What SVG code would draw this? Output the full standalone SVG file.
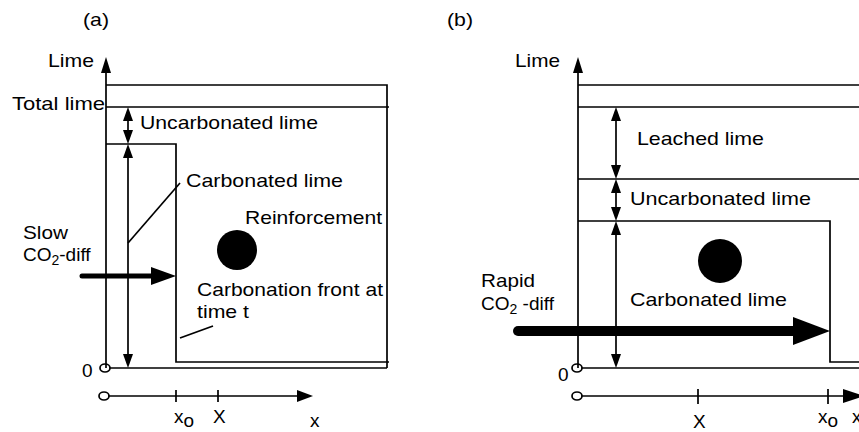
<svg xmlns="http://www.w3.org/2000/svg" width="859" height="432" viewBox="0 0 859 432">
<style>
.l{stroke:#000;stroke-width:1.7;fill:none}
.t{font-family:"Liberation Sans",Arial,sans-serif;font-size:19px;fill:#000}
.s{font-size:14px}
.h{fill:#000;stroke:none}
</style>
<rect width="859" height="432" fill="#fff"/>
<g id="panel-a">
<text class="t" x="83" y="26" textLength="26" lengthAdjust="spacingAndGlyphs">(a)</text>
<g id="a-axes">
<line class="l" x1="106" y1="368" x2="106" y2="70"/>
<path class="h" d="M106,57 L111,73 L101,73 Z"/>
<text class="t" x="48" y="67" textLength="46" lengthAdjust="spacingAndGlyphs">Lime</text>
<ellipse class="l" cx="105" cy="368" rx="5" ry="4" fill="#fff"/>
<line class="l" x1="110" y1="368" x2="387" y2="368"/>
<text class="t" x="82" y="377">0</text>
<ellipse class="l" cx="104" cy="396" rx="5" ry="4" fill="#fff"/>
<line class="l" x1="109" y1="396" x2="300" y2="396"/>
<path class="h" d="M313,396 L297,390 L297,402 Z"/>
<line class="l" x1="176" y1="390" x2="176" y2="402"/>
<line class="l" x1="218" y1="390" x2="218" y2="402"/>
<text class="t" x="174" y="423">x<tspan dy="4">o</tspan></text>
<text class="t" x="213" y="423">X</text>
<text class="t" x="310" y="427">x</text>
</g>
<g id="a-profile">
<path class="l" d="M106,85 H387 V368"/>
<line class="l" x1="106" y1="107" x2="389" y2="107"/>
<path class="l" d="M106,144 H176 V362 H389"/>
<text class="t" x="12" y="110" textLength="93" lengthAdjust="spacingAndGlyphs">Total lime</text>
</g>
<g id="a-uncarbonated">
<line class="l" x1="128" y1="118" x2="128" y2="133"/>
<path class="h" d="M128,107 L133,121 L123,121 Z"/>
<path class="h" d="M128,144 L133,130 L123,130 Z"/>
<text class="t" x="140" y="129" textLength="178" lengthAdjust="spacingAndGlyphs">Uncarbonated lime</text>
</g>
<g id="a-carbonated">
<line class="l" x1="128" y1="155" x2="128" y2="357"/>
<path class="h" d="M128,144 L133,158 L123,158 Z"/>
<path class="h" d="M128,368 L133,354 L123,354 Z"/>
<line class="l" x1="128" y1="243" x2="180" y2="183"/>
<text class="t" x="186" y="187" textLength="157" lengthAdjust="spacingAndGlyphs">Carbonated lime</text>
</g>
<g id="a-reinforcement">
<circle cx="237" cy="250" r="20" fill="#000"/>
<text class="t" x="245" y="224" textLength="137" lengthAdjust="spacingAndGlyphs">Reinforcement</text>
</g>
<g id="a-diffusion">
<text class="t" x="23" y="239" textLength="45" lengthAdjust="spacingAndGlyphs">Slow</text>
<text class="t" x="23" y="261">CO<tspan class="s" dy="4">2</tspan><tspan dy="-4">-diff</tspan></text>
<line x1="82" y1="276" x2="154" y2="276" stroke="#000" stroke-width="5" stroke-linecap="round"/>
<path class="h" d="M176,276 L151,267 L151,285 Z"/>
</g>
<g id="a-front">
<text class="t" x="197" y="296" textLength="186" lengthAdjust="spacingAndGlyphs">Carbonation front at</text>
<text class="t" x="197" y="318" textLength="52" lengthAdjust="spacingAndGlyphs">time t</text>
<line class="l" x1="180" y1="338" x2="213" y2="326"/>
</g>
</g>
<g id="panel-b">
<text class="t" x="447" y="26" textLength="26" lengthAdjust="spacingAndGlyphs">(b)</text>
<g id="b-axes">
<line class="l" x1="578" y1="368" x2="578" y2="70"/>
<path class="h" d="M578,57 L583,73 L573,73 Z"/>
<text class="t" x="515" y="67" textLength="45" lengthAdjust="spacingAndGlyphs">Lime</text>
<ellipse class="l" cx="577" cy="368" rx="5" ry="4" fill="#fff"/>
<line class="l" x1="582" y1="368" x2="859" y2="368"/>
<text class="t" x="558" y="381">0</text>
<ellipse class="l" cx="577" cy="396" rx="5" ry="4" fill="#fff"/>
<line class="l" x1="582" y1="396" x2="850" y2="396"/>
<path class="h" d="M864,396 L843,389 L843,403 Z"/>
<line class="l" x1="698" y1="389" x2="698" y2="404"/>
<line class="l" x1="828" y1="389" x2="828" y2="404"/>
<text class="t" x="693" y="428">X</text>
<text class="t" x="818" y="423">x<tspan dy="4">o</tspan></text>
<text class="t" x="852" y="423">x</text>
</g>
<g id="b-profile">
<line class="l" x1="578" y1="85" x2="859" y2="85"/>
<line class="l" x1="578" y1="107" x2="859" y2="107"/>
<line class="l" x1="578" y1="179" x2="859" y2="179"/>
<path class="l" d="M578,221 H830 V362 H859"/>
</g>
<g id="b-leached">
<line class="l" x1="616" y1="118" x2="616" y2="168"/>
<path class="h" d="M616,107 L621,121 L611,121 Z"/>
<path class="h" d="M616,179 L621,165 L611,165 Z"/>
<text class="t" x="637" y="145" textLength="127" lengthAdjust="spacingAndGlyphs">Leached lime</text>
</g>
<g id="b-uncarbonated">
<line class="l" x1="616" y1="190" x2="616" y2="210"/>
<path class="h" d="M616,179 L621,193 L611,193 Z"/>
<path class="h" d="M616,221 L621,207 L611,207 Z"/>
<text class="t" x="630" y="205" textLength="181" lengthAdjust="spacingAndGlyphs">Uncarbonated lime</text>
</g>
<g id="b-carbonated">
<line class="l" x1="616" y1="232" x2="616" y2="357"/>
<path class="h" d="M616,221 L621,235 L611,235 Z"/>
<path class="h" d="M616,368 L621,354 L611,354 Z"/>
<text class="t" x="630" y="306" textLength="157" lengthAdjust="spacingAndGlyphs">Carbonated lime</text>
</g>
<g id="b-reinforcement">
<circle cx="720" cy="261" r="22" fill="#000"/>
</g>
<g id="b-diffusion">
<text class="t" x="481" y="287" textLength="54" lengthAdjust="spacingAndGlyphs">Rapid</text>
<text class="t" x="481" y="310">CO<tspan class="s" dy="4">2</tspan><tspan dy="-4"> -diff</tspan></text>
<line x1="518" y1="331" x2="796" y2="331" stroke="#000" stroke-width="10" stroke-linecap="round"/>
<path class="h" d="M830,331 L793,317 L793,345 Z"/>
</g>
</g>
</svg>
